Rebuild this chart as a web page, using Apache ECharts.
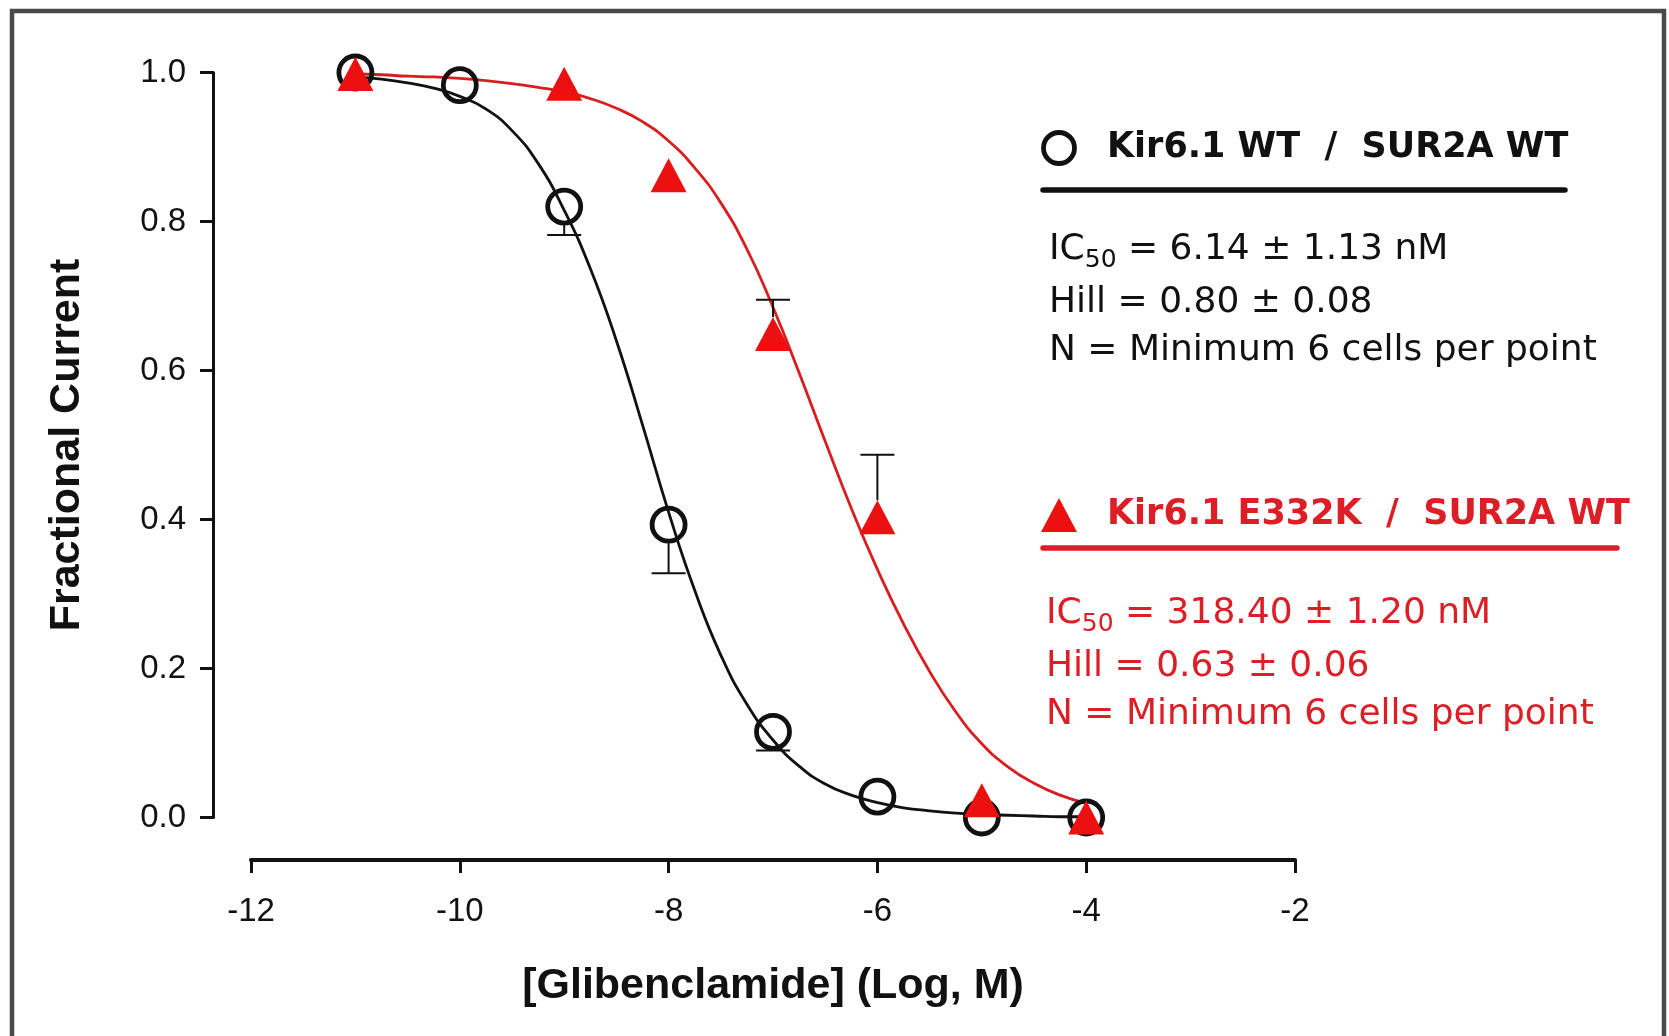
<!DOCTYPE html>
<html>
<head>
<meta charset="utf-8">
<script src="https://cdn.jsdelivr.net/npm/echarts@6/dist/echarts.min.js"></script>
<style>
  html, body { margin: 0; padding: 0; background: #ffffff; }
  #chart { width: 1669px; height: 1036px; }
</style>
</head>
<body>
<div id="chart"></div>
<script>
// ---------- data ----------
const xTicks = [-12, -10, -8, -6, -4, -2];
const yTicks = [0.0, 0.2, 0.4, 0.6, 0.8, 1.0];

// Kir6.1 WT / SUR2A WT (open circles)
const wtDose = [-11, -10, -9, -8, -7, -6, -5, -4];
const wtMean = [1.0, 0.983, 0.820, 0.393, 0.115, 0.028, 0.0, 0.0];
const wtErrLow = [null, null, 0.782, 0.328, 0.090, null, null, null];

// Kir6.1 E332K / SUR2A WT (filled triangles)
const mutDose = [-11, -9, -8, -7, -6, -5, -4];
const mutMean = [0.998, 0.985, 0.862, 0.649, 0.403, 0.023, 0.0];
const mutErrHigh = [null, null, null, 0.695, 0.487, null, null];

// fitted curves
const fitX = [-11, -10.75, -10.5, -10.25, -10, -9.75, -9.5, -9.25, -9, -8.75, -8.5, -8.25, -8,
              -7.75, -7.5, -7.25, -7, -6.75, -6.5, -6.25, -6, -5.75, -5.5, -5.25, -5, -4.75, -4.5, -4.25, -4];
const wtFit = [0.994, 0.991, 0.986, 0.979, 0.968, 0.951, 0.922, 0.878, 0.815, 0.737, 0.640, 0.527, 0.410,
               0.305, 0.218, 0.152, 0.104, 0.069, 0.045, 0.030, 0.020, 0.013, 0.009, 0.006, 0.004, 0.003, 0.002, 0.001, 0.001];
const mutFit = [0.998, 0.997, 0.995, 0.994, 0.992, 0.989, 0.985, 0.980, 0.974, 0.965, 0.952, 0.934, 0.908,
                0.872, 0.825, 0.763, 0.685, 0.597, 0.505, 0.415, 0.333, 0.260, 0.196, 0.142, 0.099, 0.068, 0.046, 0.030, 0.019];

const wtLabel = 'Kir6.1 WT  /  SUR2A WT';
const mutLabel = 'Kir6.1 E332K  /  SUR2A WT';
const wtStats = ['6.14 \u00b1 1.13 nM', 'Hill = 0.80 \u00b1 0.08', 'N = Minimum 6 cells per point'];
const mutStats = ['318.40 \u00b1 1.20 nM', 'Hill = 0.63 \u00b1 0.06', 'N = Minimum 6 cells per point'];

// ---------- build ----------
const BLACK = '#111111';
const RED = '#ec1010';
const REDLINE = '#d81e1e';
const REDTEXT = '#dc1f26';

const zip = (xs, ys) => xs.map((x, i) => [x, ys[i]]);
const errData = (xs, ms, es) => xs.map((x, i) => es[i] == null ? null : [x, ms[i], es[i]]).filter(d => d);

function errRender(radius) {
  return function (params, api) {
    const x = api.value(0), m = api.value(1), e = api.value(2);
    const p0 = api.coord([x, m]);
    const p1 = api.coord([x, e]);
    const dir = p1[1] > p0[1] ? 1 : -1;
    const cap = 17;
    const st = { stroke: BLACK, lineWidth: 2 };
    return {
      type: 'group',
      children: [
        { type: 'line', shape: { x1: p0[0], y1: p0[1] + dir * radius, x2: p0[0], y2: p1[1] }, style: st },
        { type: 'line', shape: { x1: p0[0] - cap, y1: p1[1], x2: p0[0] + cap, y2: p1[1] }, style: st }
      ]
    };
  };
}

const legendFont = '"DejaVu Sans", Verdana, sans-serif';
const axisFont = '"Liberation Sans", Arial, sans-serif';
const nameFont = '"Liberation Sans", Arial, sans-serif';

function statBlock(x, y0, color, stats) {
  const rich = {
    a: { fontFamily: legendFont, fontSize: 36, lineHeight: 46, fill: color, color: color, verticalAlign: 'middle' },
    s: { fontFamily: legendFont, fontSize: 25, lineHeight: 25, fill: color, color: color, verticalAlign: 'bottom' }
  };
  return [
    { type: 'text', x: x, y: y0, style: { text: '{a|IC}{s|50}{a| = ' + stats[0] + '}', rich: rich, textVerticalAlign: 'middle', verticalAlign: 'middle' }, z: 10 },
    { type: 'text', x: x, y: y0 + 53, style: { text: stats[1], font: '36px ' + legendFont, fill: color, textVerticalAlign: 'middle', verticalAlign: 'middle' }, z: 10 },
    { type: 'text', x: x, y: y0 + 101, style: { text: stats[2], font: '36px ' + legendFont, fill: color, textVerticalAlign: 'middle', verticalAlign: 'middle' }, z: 10 }
  ];
}

const graphics = [
  // outer frame (bottom edge lies beyond the picture)
  { type: 'rect', shape: { x: 12, y: 11, width: 1652, height: 1100 }, style: { fill: null, stroke: '#4a4a4a', lineWidth: 4.5 }, z: 0, silent: true },

  // WT legend
  { type: 'circle', shape: { cx: 1059, cy: 148, r: 15.5 }, style: { fill: null, stroke: BLACK, lineWidth: 4.8 }, z: 10 },
  { type: 'text', x: 1107, y: 148, style: { text: wtLabel, font: 'bold 35px ' + legendFont, fill: BLACK, textVerticalAlign: 'middle', verticalAlign: 'middle' }, z: 10 },
  { type: 'line', shape: { x1: 1043, y1: 190, x2: 1565, y2: 190 }, style: { stroke: BLACK, lineWidth: 5.5, lineCap: 'round' }, z: 10 },

  // mutant legend
  { type: 'polygon', shape: { points: [[1059, 498], [1077, 532], [1041, 532]] }, style: { fill: RED }, z: 10 },
  { type: 'text', x: 1107, y: 515, style: { text: mutLabel, font: 'bold 35px ' + legendFont, fill: REDTEXT, textVerticalAlign: 'middle', verticalAlign: 'middle' }, z: 10 },
  { type: 'line', shape: { x1: 1043, y1: 548, x2: 1617, y2: 548 }, style: { stroke: REDTEXT, lineWidth: 5.5, lineCap: 'round' }, z: 10 }
].concat(statBlock(1049, 250, BLACK, wtStats)).concat(statBlock(1046, 614, REDTEXT, mutStats));

const chart = echarts.init(document.getElementById('chart'), null, { renderer: 'canvas' });
chart.setOption({
  backgroundColor: '#ffffff',
  animation: false,
  grid: { left: 251, right: 374, top: 72.5, bottom: 218.5, containLabel: false },
  xAxis: {
    type: 'value', min: xTicks[0], max: xTicks[xTicks.length - 1], interval: 2,
    offset: 42.5,
    axisLine: { show: true, onZero: false, lineStyle: { color: BLACK, width: 4 } },
    axisTick: { show: true, inside: false, length: 13, lineStyle: { color: BLACK, width: 3 } },
    axisLabel: { color: BLACK, fontSize: 33, fontFamily: axisFont, margin: 35 },
    splitLine: { show: false },
    name: '[Glibenclamide] (Log, M)', nameLocation: 'middle', nameGap: 105,
    nameTextStyle: { color: BLACK, fontSize: 43, fontWeight: 'bold', fontFamily: nameFont }
  },
  yAxis: {
    type: 'value', min: yTicks[0], max: yTicks[yTicks.length - 1], interval: 0.2,
    offset: 38,
    axisLine: { show: true, onZero: false, lineStyle: { color: BLACK, width: 3 } },
    axisTick: { show: true, inside: false, length: 13, lineStyle: { color: BLACK, width: 3 } },
    axisLabel: { color: BLACK, fontSize: 33, fontFamily: axisFont, margin: 27, formatter: v => v.toFixed(1) },
    splitLine: { show: false },
    name: 'Fractional Current', nameLocation: 'middle', nameGap: 124, nameRotate: 90,
    nameTextStyle: { color: BLACK, fontSize: 43, fontWeight: 'bold', fontFamily: nameFont }
  },
  graphic: graphics,
  series: [
    { name: 'mutFit', type: 'line', data: zip(fitX, mutFit), smooth: 0.5, symbol: 'none', lineStyle: { color: REDLINE, width: 2.8 }, z: 2, silent: true },
    { name: 'wtFit', type: 'line', data: zip(fitX, wtFit), smooth: 0.5, symbol: 'none', lineStyle: { color: BLACK, width: 2.8 }, z: 3, silent: true },
    { name: 'wtErr', type: 'custom', data: errData(wtDose, wtMean, wtErrLow), renderItem: errRender(18.5), z: 4, silent: true },
    { name: 'mutErr', type: 'custom', data: errData(mutDose, mutMean, mutErrHigh), renderItem: errRender(17), z: 4, silent: true },
    { name: 'WT', type: 'scatter', data: zip(wtDose, wtMean), symbol: 'circle', symbolSize: 33,
      itemStyle: { color: 'rgba(0,0,0,0)', borderColor: BLACK, borderWidth: 4.8, opacity: 1 }, z: 5, silent: true },
    { name: 'E332K', type: 'scatter', data: zip(mutDose, mutMean), symbol: 'triangle', symbolSize: [36, 34],
      itemStyle: { color: RED, opacity: 1 }, z: 6, silent: true }
  ]
});
</script>
</body>
</html>
